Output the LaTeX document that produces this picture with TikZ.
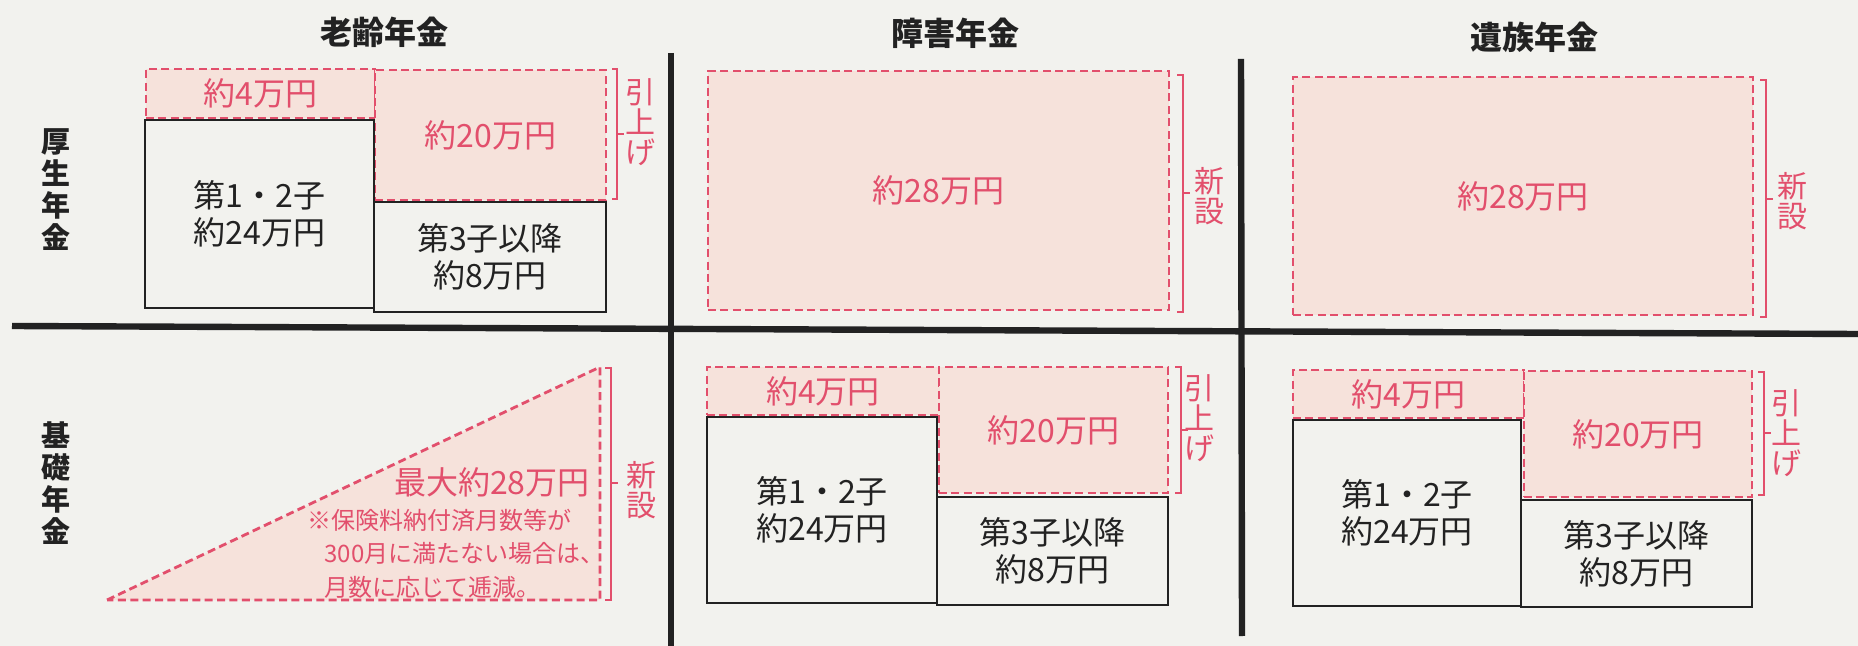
\documentclass[tikz,border=0pt]{standalone}
\usepackage{fontspec}
\setmainfont{Noto Sans CJK JP}
\usetikzlibrary{fit}
\definecolor{pk}{HTML}{E24F6C}
\definecolor{pkfill}{HTML}{F6E2DB}
\definecolor{bg}{HTML}{F2F2EE}
\definecolor{ink}{HTML}{222222}
\tikzset{
  mainfont/.style={font=\fontsize{16}{18.5}\selectfont},
  pklab/.style={text=pk, inner sep=0pt, mainfont},
  inklab/.style={text=ink, inner sep=0pt, align=center, mainfont},
  dbox/.style={draw=pk, fill=pkfill, line width=1.4pt, dash pattern=on 4pt off 2.2pt, inner sep=0pt, label={[pklab]center:{#1}}},
  sbox/.style={draw=ink, line width=0.9pt, inner sep=0pt, label={[inklab]center:{#1}}},
  heavy/.style={draw=ink, line width=3.2pt},
  brk/.style={draw=pk, line width=0.7pt},
  vlabel/.style={text=pk, align=center, inner sep=0pt, font=\fontsize{15}{15}\selectfont},
  rowlabel/.style={text=ink, align=center, inner sep=0pt, font=\fontsize{14.5}{16}\selectfont\bfseries},
  coltitle/.style={text=ink, inner sep=0pt, font=\fontsize{16}{18}\selectfont\bfseries},
  pktext/.style={text=pk, inner sep=0pt},
  notefont/.style={font=\fontsize{12}{14}\selectfont},
}
\begin{document}
\begin{tikzpicture}[x=0.5pt,y=-0.5pt]
\useasboundingbox (0,0) rectangle (1858,646);
\fill[bg] (0,0) rectangle (1858,646);

% grid lines
\coordinate (hL) at (12,326);
\coordinate (hR) at (1858,334);
\coordinate (v1t) at (671,53);
\coordinate (v1b) at (671,646);
\coordinate (v2t) at (1241,59);
\coordinate (v2b) at (1242,636);
\draw[heavy] (hL) -- (hR);
\draw[heavy] (v1t) -- (v1b);
\draw[heavy] (v2t) -- (v2b);

% titles
\node[coltitle] (t1) at (384,32) {老齢年金};
\node[coltitle] (t2) at (955,33) {障害年金};
\node[coltitle] (t3) at (1534,37) {遺族年金};
\node[rowlabel] (r1) at (56,190) {厚\\生\\年\\金};
\node[rowlabel] (r2) at (56,483) {基\\礎\\年\\金};

% ---------- panel A (老齢・厚生)
\node[dbox={約4万円}, fit={(146,69)(375,118)}] (a4) {};
\node[dbox={約20万円}, fit={(375,70)(606,200)}] (a20) {};
\node[sbox={第1・2子\\約24万円}, fit={(145,120)(374,308)}] (a12) {};
\node[sbox={第3子以降\\約8万円}, fit={(374,202)(606,312)}] (a3) {};
\draw[brk] (612,69) -- (617,69) -- (617,199) -- (612,199);
\draw[brk] (617,134) -- (624,134);
\node[vlabel] (aup) at (640,122) {引\\上\\げ};

% ---------- panel B (障害・厚生)
\node[dbox={約28万円}, fit={(708,71)(1169,310)}] (b28) {};
\draw[brk] (1177,75) -- (1183,75) -- (1183,312) -- (1177,312);
\draw[brk] (1183,193) -- (1190,193);
\node[vlabel] (bnew) at (1209,196) {新\\設};

% ---------- panel C (遺族・厚生)
\node[dbox={約28万円}, fit={(1293,77)(1753,315)}] (c28) {};
\draw[brk] (1760,80) -- (1766,80) -- (1766,317) -- (1760,317);
\draw[brk] (1766,199) -- (1773,199);
\node[vlabel] (cnew) at (1792,201) {新\\設};

% ---------- panel D (老齢・基礎)
\coordinate (d1) at (107,600);
\coordinate (d2) at (600,367);
\coordinate (d3) at (600,600);
\fill[pkfill] (d1) -- (d2) -- (d3) -- cycle;
\draw[draw=pk, line width=1.4pt, dash pattern=on 4pt off 2.2pt] (d1) -- (d2) -- (d3) -- cycle;
\draw[brk] (605,368) -- (611,368) -- (611,600) -- (605,600);
\draw[brk] (611,483) -- (618,483);
\node[vlabel] (dnew) at (641,490) {新\\設};
\node[pktext, mainfont, anchor=east] (dmax) at (590,482) {最大約28万円};
\node[pktext, notefont, anchor=west] (dn1) at (307,520) {※保険料納付済月数等が};
\node[pktext, notefont, anchor=west] (dn2) at (324,553) {300月に満たない場合は、};
\node[pktext, notefont, anchor=west] (dn3) at (324,587) {月数に応じて逓減。};

% ---------- panel E (障害・基礎)
\node[dbox={約4万円}, fit={(707,367)(939,415)}] (e4) {};
\node[dbox={約20万円}, fit={(939,367)(1168,493)}] (e20) {};
\node[sbox={第1・2子\\約24万円}, fit={(707,417)(937,603)}] (e12) {};
\node[sbox={第3子以降\\約8万円}, fit={(937,497)(1168,605)}] (e3) {};
\draw[brk] (1175,367) -- (1181,367) -- (1181,493) -- (1175,493);
\draw[brk] (1181,430) -- (1188,430);
\node[vlabel] (eup) at (1199,418) {引\\上\\げ};

% ---------- panel F (遺族・基礎)
\node[dbox={約4万円}, fit={(1293,370)(1524,418)}] (f4) {};
\node[dbox={約20万円}, fit={(1524,371)(1752,497)}] (f20) {};
\node[sbox={第1・2子\\約24万円}, fit={(1293,420)(1521,606)}] (f12) {};
\node[sbox={第3子以降\\約8万円}, fit={(1521,500)(1752,607)}] (f3) {};
\draw[brk] (1758,372) -- (1764,372) -- (1764,495) -- (1758,495);
\draw[brk] (1764,433) -- (1771,433);
\node[vlabel] (fup) at (1786,433) {引\\上\\げ};
\end{tikzpicture}
\end{document}
